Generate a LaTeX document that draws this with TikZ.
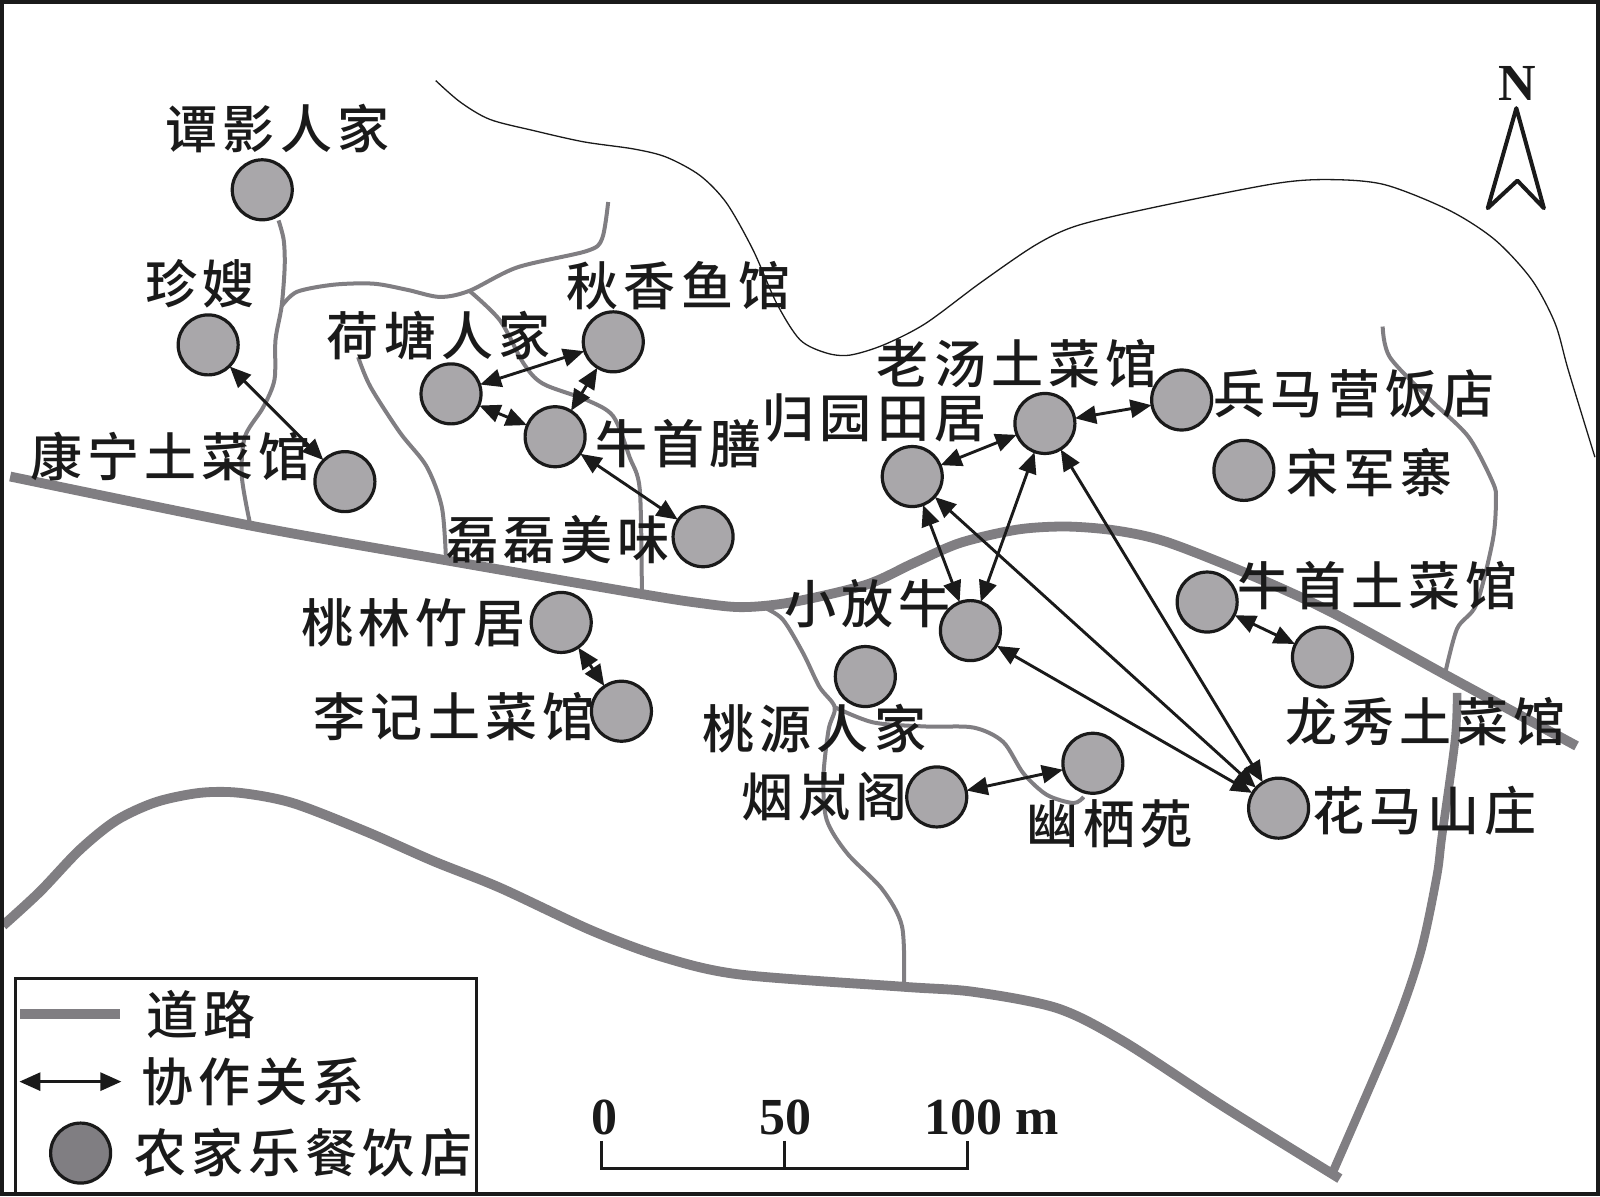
\documentclass[tikz,border=0pt]{standalone}
\usepackage{fontspec}
\usetikzlibrary{arrows.meta}
\setmainfont{Liberation Serif}
\newfontfamily\cjk[LetterSpace=10]{Noto Sans CJK SC Medium}
\definecolor{roadgray}{HTML}{807E82}
\definecolor{shopgray}{HTML}{A9A7AA}
\definecolor{inkblack}{HTML}{1A1A1A}
\tikzset{
 majorroad/.style={draw=roadgray,line width=4.9pt,line join=round},
 minorroad/.style={draw=roadgray,line width=2pt,line join=round},
 contour/.style={draw=inkblack,line width=0.65pt},
 shop/.style={circle,draw=inkblack,fill=shopgray,line width=1.6pt,minimum size=30pt,inner sep=0pt},
 lab/.style={inner sep=0pt,text=inkblack,font=\fontsize{26}{26}\selectfont\cjk},
 num/.style={inner sep=0pt,text=inkblack,font=\fontsize{26}{26}\selectfont\bfseries},
 collab/.style={draw=inkblack,line width=1.45pt,{Triangle[length=10.5pt,width=9pt]}-{Triangle[length=10.5pt,width=9pt]},shorten <=-0.5pt,shorten >=-0.5pt},
}
\begin{document}
\begin{tikzpicture}[x=0.5102pt,y=-0.5102pt]
\useasboundingbox (0,0) rectangle (1568,1172.2);
% contour
\draw[contour] plot[smooth,tension=.5] coordinates {(427,79) (451,100) (480,117) (523,128) (572,139) (621,146) (653,154) (686,172) (712,199) (738,245) (761,297) (784,333) (810,346) (833,348) (866,338) (907,317) (961,277) (1015,240) (1056,221) (1132,203) (1249,180) (1303,176) (1357,181) (1420,206) (1465,235) (1501,274) (1524,317) (1537,363) (1563,448)};
% minor roads
\draw[minorroad] plot[smooth,tension=.5] coordinates {(273,216) (278,235) (279,261) (276,300) (270,333) (269,372) (258,399) (240,428) (237,467) (245,513)};
\draw[minorroad] plot[smooth,tension=.5] coordinates {(276,300) (291,286) (327,279) (366,278) (399,284) (431,291) (460,285) (507,262) (575,246) (590,234) (596,198)};
\draw[minorroad] plot[smooth,tension=.5] coordinates {(460,285) (490,314) (513,356) (532,376) (575,392) (601,408) (617,448) (627,480) (629,580)};
\draw[minorroad] plot[smooth,tension=.5] coordinates {(351,350) (363,379) (392,424) (418,457) (433,497) (437,547)};
\draw[minorroad] plot[smooth,tension=.5] coordinates {(748,595) (767,607) (787,640) (803,673) (818,693) (812,715) (807,761) (810,803) (830,836) (865,872) (884,908) (886,965)};
\draw[minorroad] plot[smooth,tension=.5] coordinates {(818,693) (856,708) (908,712) (954,713) (983,727) (1003,758) (1026,779) (1052,787) (1062,781)};
\draw[minorroad] plot[smooth,tension=.5] coordinates {(1355,320) (1362,350) (1402,392) (1439,428) (1463,473) (1466,490) (1463,529) (1447,592) (1428,616) (1416,661)};
% major roads
\draw[majorroad] plot[smooth,tension=.5] coordinates {(10,467) (245,515) (431,548) (628,582) (686,591) (728,595) (777,590) (849,573) (895,552) (941,532) (997,519) (1045,516) (1094,520) (1143,531) (1222,562) (1303,599) (1416,661) (1545,731)};
\draw[majorroad] plot[smooth,tension=.5] coordinates {(3,907) (39,874) (78,833) (114,804) (153,786) (196,777) (235,777) (287,787) (359,815) (425,844) (490,870) (580,912) (650,938) (725,955) (885,967) (954,972) (1036,988) (1100,1020) (1200,1085) (1313,1155)};
\draw[majorroad,line width=4.3pt] plot[smooth,tension=.5] coordinates {(1428,679) (1426,725) (1413,820) (1408,859) (1392,934) (1365,1012) (1306,1149)};
% shops
\node[shop] (tanying) at (257,186) {};
\node[shop] (zhensao) at (204,338) {};
\node[shop] (kangning) at (338,472) {};
\node[shop] (hetang) at (442,386) {};
\node[shop] (qiuxiang) at (601,335) {};
\node[shop] (niushoushan) at (544,428) {};
\node[shop] (leilei) at (689,526) {};
\node[shop] (taolin) at (550,610) {};
\node[shop] (liji) at (609,697) {};
\node[shop] (guiyuan) at (894,467) {};
\node[shop] (laotang) at (1024,415) {};
\node[shop] (bingma) at (1158,392) {};
\node[shop] (songjun) at (1219,461) {};
\node[shop] (xiaofang) at (951,618) {};
\node[shop] (taoyuan) at (848,663) {};
\node[shop] (niushou) at (1183,590) {};
\node[shop] (longxiu) at (1296,644) {};
\node[shop] (yanlan) at (918,781) {};
\node[shop] (youqi) at (1071,748) {};
\node[shop] (huama) at (1253,792) {};
% labels
\node[lab] (t1) at (272,126) {谭影人家};
\node[lab] (t2) at (196,278) {珍嫂};
\node[lab] (t3) at (167,447) {康宁土菜馆};
\node[lab] (t4) at (430,329) {荷塘人家};
\node[lab] (t5) at (665,280) {秋香鱼馆};
\node[lab] (t6) at (665,435) {牛首膳};
\node[lab] (t7) at (547,529) {磊磊美味};
\node[lab] (t8) at (405,610) {桃林竹居};
\node[lab] (t9) at (445,702) {李记土菜馆};
\node[lab] (t10) at (857,410) {归园田居};
\node[lab] (t11) at (997,356) {老汤土菜馆};
\node[lab] (t12) at (1327,386) {兵马营饭店};
\node[lab] (t13) at (1342,463) {宋军寨};
\node[lab] (t14) at (850,592) {小放牛};
\node[lab] (t15) at (798,714) {桃源人家};
\node[lab] (t16) at (1350,574) {牛首土菜馆};
\node[lab] (t17) at (1397,707) {龙秀土菜馆};
\node[lab] (t18) at (808,781) {烟岚阁};
\node[lab] (t19) at (1087,807) {幽栖苑};
\node[lab] (t20) at (1396,794) {花马山庄};
% collaboration
\draw[collab] (zhensao) -- (kangning);
\draw[collab] (hetang) -- (qiuxiang);
\draw[collab] (hetang) -- (niushoushan);
\draw[collab] (qiuxiang) -- (niushoushan);
\draw[collab] (niushoushan) -- (leilei);
\draw[collab] (taolin) -- (liji);
\draw[collab] (guiyuan) -- (laotang);
\draw[collab] (laotang) -- (bingma);
\draw[collab] (guiyuan) -- (xiaofang);
\draw[collab] (laotang) -- (xiaofang);
\draw[collab] (guiyuan) -- (huama);
\draw[collab] (laotang) -- (huama);
\draw[collab] (xiaofang) -- (huama);
\draw[collab] (niushou) -- (longxiu);
\draw[collab] (yanlan) -- (youqi);
% north arrow
\node[num] (north) at (1487,82) {N};
\draw[draw=inkblack,line width=2pt,line join=round] (1486,106) -- (1458,204) -- (1487,177) -- (1513,204) -- cycle;
% scale bar
\node[num] (s0) at (592,1095) {0};
\node[num] (s50) at (770,1095) {50};
\node[num] (s100) at (972,1095) {100 m};
\draw[draw=inkblack,line width=1.5pt] (589,1118) -- (589,1145) -- (948,1145) -- (948,1118) (769,1118) -- (769,1145);
% legend
\draw[draw=inkblack,line width=1.4pt] (15,1170) -- (15,959) -- (467,959) -- (467,1170);
\coordinate (la) at (20,994);
\coordinate (lb) at (118,994);
\draw[majorroad,line width=5.2pt] (la) -- (lb);
\coordinate (lc) at (20,1060);
\coordinate (ld) at (118,1060);
\draw[collab] (lc) -- (ld);
\node[shop,fill=roadgray] (lshop) at (79,1130) {};
\node[lab] (l1) at (197,994) {道路};
\node[lab] (l2) at (248,1060) {协作关系};
\node[lab] (l3) at (297,1130) {农家乐餐饮店};
% frame
\draw[draw=inkblack,line width=2.2pt] (2,2) rectangle (1566,1170.2);
\end{tikzpicture}
\end{document}
